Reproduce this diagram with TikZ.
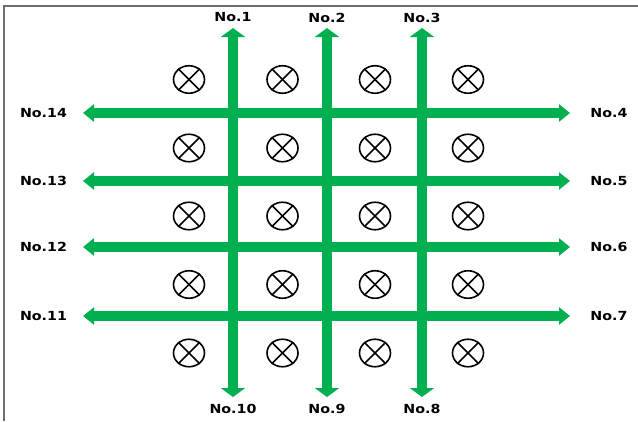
\documentclass[tikz,border=0pt]{standalone}
\usepackage{fontspec}
\setmainfont{DejaVu Sans}
\usetikzlibrary{arrows.meta,shapes.geometric}
\definecolor{arrowgreen}{RGB}{0,176,80}
\definecolor{framegray}{RGB}{110,110,110}
\tikzset{
  vline/.style={line width=10.5pt, arrowgreen, -{Triangle[width=24pt,length=9pt]}},
  hline/.style={line width=9.5pt, arrowgreen, {Triangle[width=17pt,length=11pt]}-{Triangle[width=17pt,length=11pt]}},
  lbl/.style={font=\fontsize{12.5}{12.5}\selectfont\bfseries, xscale=1.14, inner sep=0pt},
  lamp/.style={draw=black, line width=1.6pt, ellipse, minimum width=31pt, minimum height=27.5pt, inner sep=0pt},
  cross/.style={black, line width=1.6pt},
  frame/.style={framegray, line width=1.4pt}
}
\begin{document}
\begin{tikzpicture}[x=1pt,y=-1pt]
\useasboundingbox (0,0) rectangle (638,421);
\fill[white] (0,0) rectangle (638,421);
% frame
\coordinate (fbl) at (4,421);
\coordinate (ftl) at (4,6);
\coordinate (ftr) at (638,6);
\draw[frame] (fbl) -- (ftl) -- (ftr);
% lamps
\foreach \cx [count=\i] in {189,282.5,375,468}{
  \foreach \cy [count=\j] in {79.5,148,216,284.5,353}{
    \node[lamp] (c-\i-\j) at (\cx,\cy) {};
    \draw[cross] (c-\i-\j.45) -- (c-\i-\j.225);
    \draw[cross] (c-\i-\j.135) -- (c-\i-\j.315);
  }
}
% vertical arrows: up (No.1-3), down (No.10-8)
\foreach \x [count=\k] in {233,327,422}{
  \coordinate (vc-\k) at (\x,211);
  \coordinate (vt-\k) at (\x,28);
  \coordinate (vb-\k) at (\x,397);
  \draw[vline] (vc-\k) -- (vt-\k);
  \draw[vline] (vc-\k) -- (vb-\k);
}
% horizontal arrows
\foreach \y [count=\k] in {113,181,247,316}{
  \coordinate (hl-\k) at (83,\y);
  \coordinate (hr-\k) at (570,\y);
  \draw[hline] (hl-\k) -- (hr-\k);
}
% labels
\node[lbl] (n1) at (233,17.5) {No.1};
\node[lbl] (n2) at (327,17.5) {No.2};
\node[lbl] (n3) at (422,17.5) {No.3};
\node[lbl] (n4) at (609,113) {No.4};
\node[lbl] (n5) at (609,181) {No.5};
\node[lbl] (n6) at (609,247) {No.6};
\node[lbl] (n7) at (609,316) {No.7};
\node[lbl] (n8) at (422,408.5) {No.8};
\node[lbl] (n9) at (327,408.5) {No.9};
\node[lbl] (n10) at (233,408.5) {No.10};
\node[lbl] (n11) at (43.5,316) {No.11};
\node[lbl] (n12) at (43.5,247) {No.12};
\node[lbl] (n13) at (43.5,181) {No.13};
\node[lbl] (n14) at (43.5,113) {No.14};
\end{tikzpicture}
\end{document}
